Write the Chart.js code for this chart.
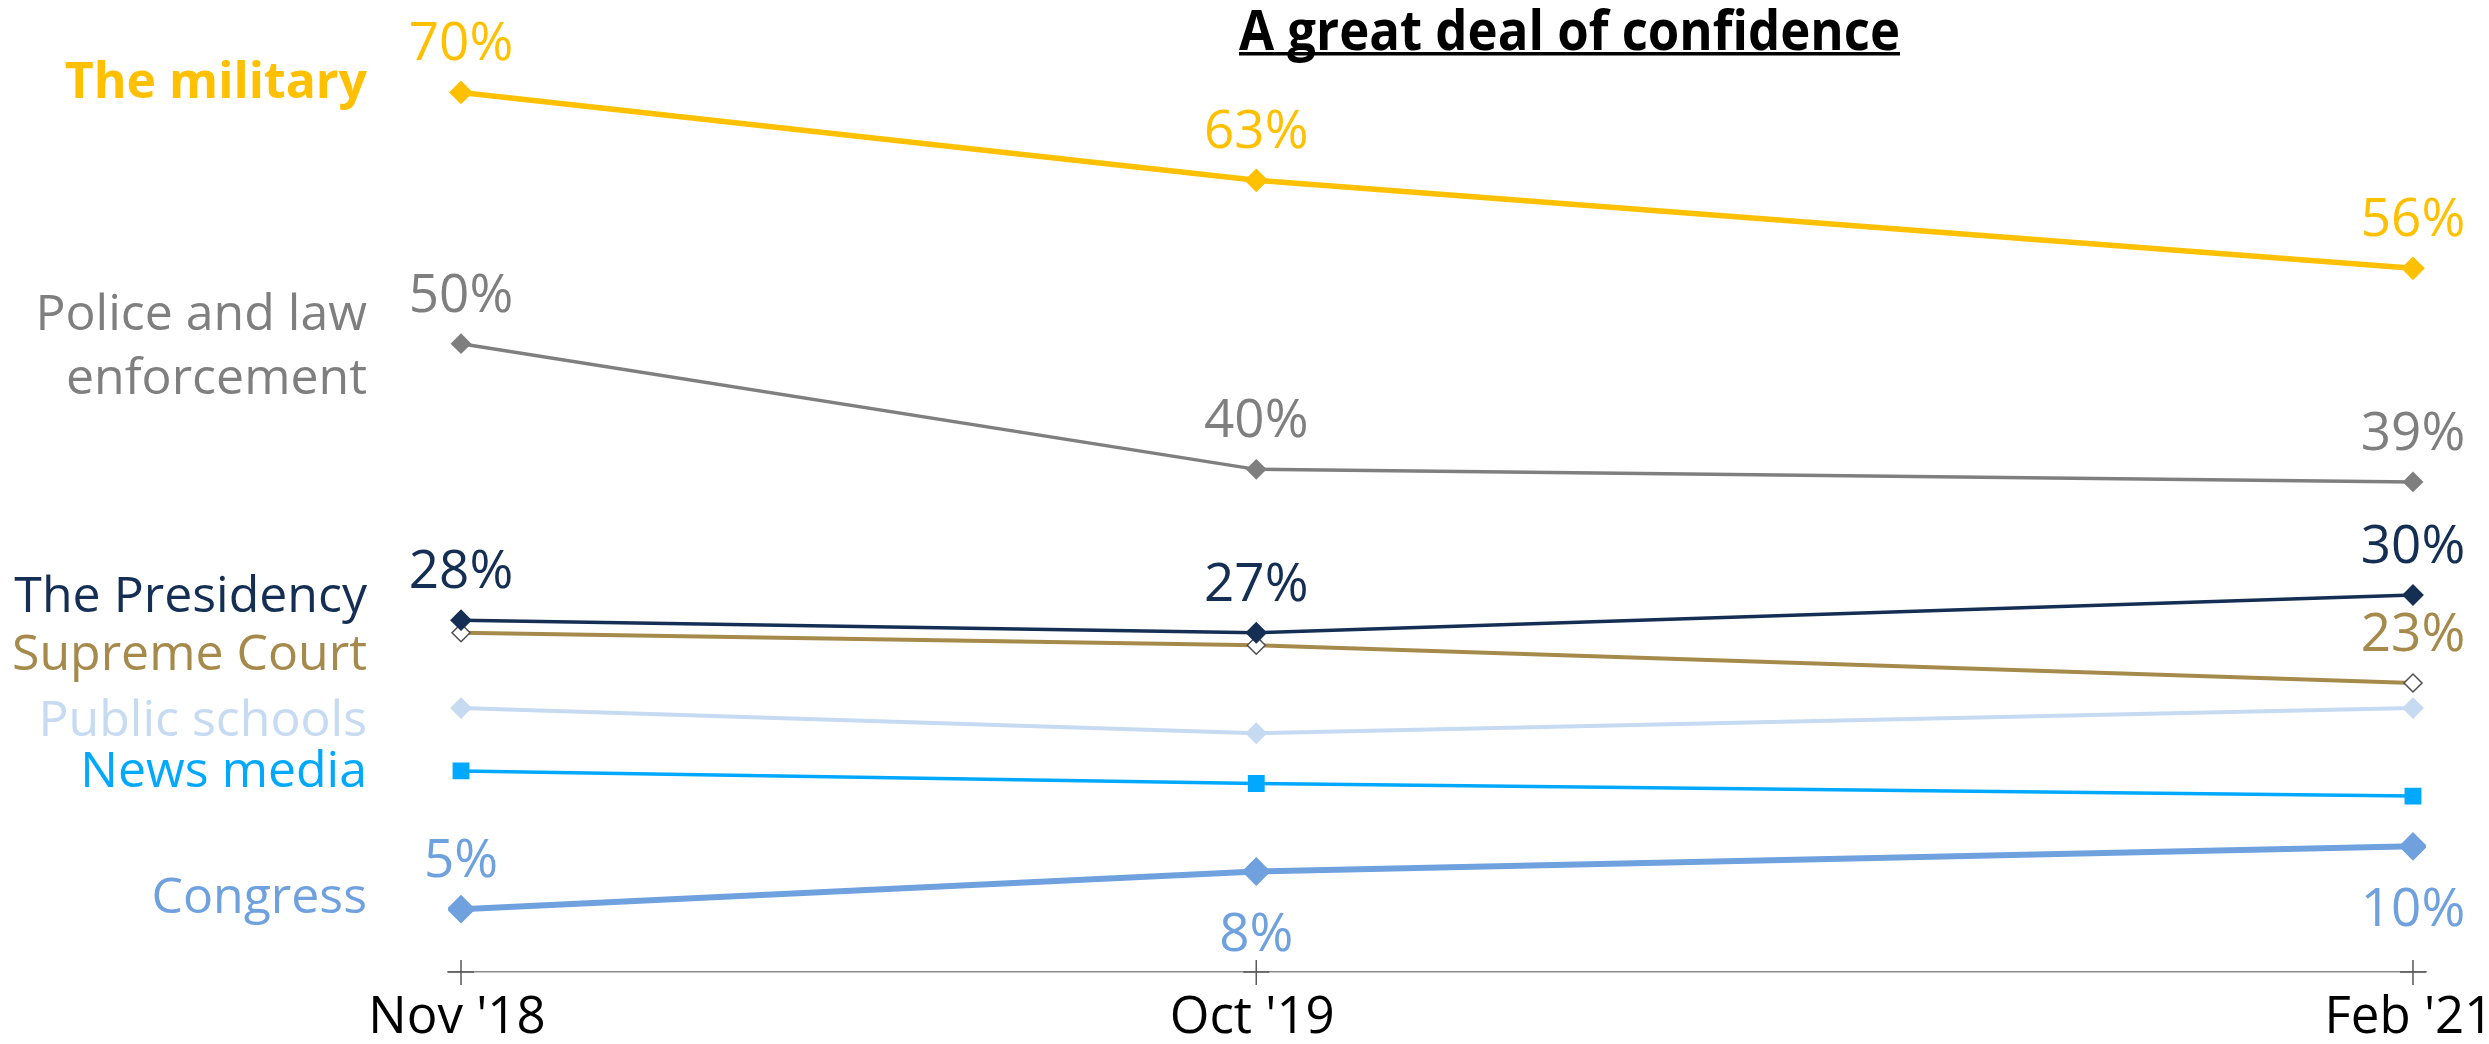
<!DOCTYPE html>
<html>
<head>
<meta charset="utf-8">
<script src="https://cdn.jsdelivr.net/npm/chart.js@4.4.1/dist/chart.umd.min.js"></script>
<style>
  html, body { margin: 0; padding: 0; background: #ffffff; }
  #wrap { width: 2489px; height: 1044px; }
</style>
</head>
<body>
<div id="wrap"><canvas id="chart" width="2489" height="1044"></canvas></div>
<script>
// survey waves, placed on a month axis (months since Nov 2018)
const waves = ["Nov '18", "Oct '19", "Feb '21"];
const waveMonths = [0, 11, 27];

const chartTitle = "A great deal of confidence";

// % with a great deal of confidence
const military = [70, 63, 56];
const police = [50, 40, 39];
const presidency = [28, 27, 30];
const supremeCourt = [27, 26, 23];
const publicSchools = [21, 19, 21];
const newsMedia = [16, 15, 14];
const congress = [5, 8, 10];

// where the value label goes for each wave (null = no label)
const militaryTags = ["above", "above", "above"];
const policeTags = ["above", "above", "above"];
const presidencyTags = ["above", "above", "above"];
const supremeTags = [null, null, "above"];
const congressTags = ["above", "below", "below"];

const FONT = "'Open Sans', 'Noto Sans', sans-serif";

const series = [
  { name: ["The military"], bold: true, nameY: [98], values: military, tags: militaryTags,
    color: "#FFC000", width: 5.5, point: "rectRot", radius: 10.5 },
  { name: ["Police and law", "enforcement"], nameY: [330, 394], values: police, tags: policeTags,
    color: "#7F7F7F", width: 3.5, point: "rectRot", radius: 9 },
  { name: ["The Presidency"], nameY: [612], values: presidency, tags: presidencyTags,
    color: "#142F53", width: 3.5, point: "rectRot", radius: 9.5 },
  { name: ["Supreme Court"], nameY: [670], values: supremeCourt, tags: supremeTags,
    color: "#A58A4B", width: 4, point: "rectRot", radius: 9, fill: "#ffffff", edge: "#505050", edgeWidth: 1.5 },
  { name: ["Public schools"], nameY: [736], values: publicSchools, tags: [null, null, null],
    color: "#C6DAF2", width: 4, point: "rectRot", radius: 9.5 },
  { name: ["News media"], nameY: [787], values: newsMedia, tags: [null, null, null],
    color: "#00A9FF", width: 3.5, point: "rect", radius: 10.5 },
  { name: ["Congress"], nameY: [913], values: congress, tags: congressTags,
    color: "#6FA1DE", width: 6, point: "rectRot", radius: 13 }
];

const datasets = series.map(s => ({
  label: s.name.join(" "),
  data: s.values.map((v, i) => ({ x: waveMonths[i], y: v })),
  borderColor: s.color,
  borderWidth: s.width,
  tension: 0,
  pointStyle: s.point,
  pointRadius: s.radius,
  pointBackgroundColor: s.fill || s.color,
  pointBorderColor: s.edge || s.color,
  pointBorderWidth: s.edgeWidth || 2
}));

// title, series names, value labels and the "+" tick marks
const decorations = {
  id: "decorations",
  afterDatasetsDraw(chart) {
    const ctx = chart.ctx;
    const xs = chart.scales.x;
    const area = chart.chartArea;
    ctx.save();

    // title
    ctx.fillStyle = "#000000";
    ctx.font = "bold 55px " + FONT;
    ctx.textAlign = "center";
    ctx.textBaseline = "alphabetic";
    ctx.fillText(chartTitle, 1569.5, 50, 661);
    ctx.fillRect(1239, 52, 661, 3.5);

    // series names on the left
    ctx.textAlign = "right";
    series.forEach(s => {
      ctx.fillStyle = s.color;
      ctx.font = (s.bold ? "bold " : "") + "50px " + FONT;
      s.name.forEach((line, k) => ctx.fillText(line, 367, s.nameY[k]));
    });

    // value labels
    ctx.textAlign = "center";
    ctx.font = "53px " + FONT;
    series.forEach((s, di) => {
      const pts = chart.getDatasetMeta(di).data;
      s.tags.forEach((tag, i) => {
        if (!tag) return;
        const p = pts[i];
        ctx.fillStyle = s.color;
        const y = tag === "above" ? p.y - 32 : p.y + 80;
        ctx.fillText(s.values[i] + "%", p.x, y);
      });
    });

    // cross ticks on the axis
    ctx.strokeStyle = "#595959";
    ctx.lineWidth = 1.5;
    waveMonths.forEach(m => {
      const px = xs.getPixelForValue(m);
      ctx.beginPath();
      ctx.moveTo(px, area.bottom - 12);
      ctx.lineTo(px, area.bottom + 13);
      ctx.moveTo(px - 13, area.bottom);
      ctx.lineTo(px + 13, area.bottom);
      ctx.stroke();
    });
    ctx.restore();
  }
};

new Chart(document.getElementById("chart"), {
  type: "line",
  data: { datasets },
  plugins: [decorations],
  options: {
    responsive: false,
    devicePixelRatio: 1,
    animation: false,
    events: [],
    layout: { padding: { left: 448, right: 63, top: 17, bottom: 0 } },
    plugins: { legend: { display: false }, tooltip: { enabled: false } },
    scales: {
      x: {
        type: "linear",
        min: -0.18,
        max: 27.18,
        grid: { display: false, drawTicks: false },
        border: { display: true, color: "#8C8C8C", width: 1.5 },
        afterBuildTicks: (scale) => { scale.ticks = waveMonths.map(v => ({ value: v })); },
        afterFit: (scale) => {
          // keep the plot edges where the reference has them
          scale.paddingLeft = 0;
          scale.paddingRight = 0;
          scale.height = 72;
        },
        ticks: {
          autoSkip: false,
          maxRotation: 0,
          padding: 26,
          labelOffset: -4,
          color: "#000000",
          font: { family: FONT, size: 51, lineHeight: 0.8 },
          callback: (v) => waves[waveMonths.indexOf(v)]
        }
      },
      y: {
        display: false,
        min: 0,
        max: 76
      }
    }
  }
});
</script>
</body>
</html>
